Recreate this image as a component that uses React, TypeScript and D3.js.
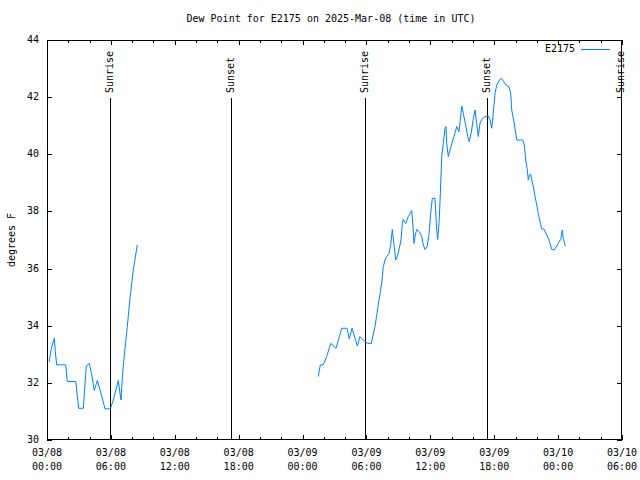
import React from "react";
import * as d3 from "d3";

// Hours since 2025-03-08 00:00 UTC, and dew point (°F)
const SEG_A_HOURS = [0.216, 0.404, 0.686, 0.78, 0.911, 1.756, 1.906, 2.695, 2.977, 3.409, 3.691, 3.973, 4.198, 4.442, 4.724, 5.071, 5.447, 5.945, 6.227, 6.696, 6.856, 6.95, 7.109, 7.541, 7.795, 8.105, 8.481];
const SEG_A_VALUES = [32.74, 33.21, 33.56, 33.09, 32.63, 32.63, 32.05, 32.05, 31.11, 31.11, 32.6, 32.68, 32.28, 31.73, 32.08, 31.63, 31.09, 31.09, 31.4, 32.08, 31.63, 31.4, 32.39, 33.97, 34.97, 35.95, 36.83];

const SEG_B_HOURS = [25.479, 25.667, 25.949, 26.268, 26.643, 27.141, 27.676, 28.174, 28.39, 28.644, 29.142, 29.395, 29.865, 30.147, 30.457, 30.804, 31.208, 31.433, 31.584, 31.743, 31.903, 32.119, 32.279, 32.429, 32.589, 32.748, 32.899, 33.086, 33.246, 33.368, 33.462, 33.687, 33.931, 34.091, 34.251, 34.401, 34.467, 34.561, 34.72, 34.965, 35.19, 35.34, 35.5, 35.716, 35.875, 36.035, 36.185, 36.439, 36.598, 36.692, 36.815, 36.908, 37.068, 37.218, 37.378, 37.472, 37.537, 37.688, 37.848, 38.007, 38.223, 38.477, 38.693, 38.852, 38.946, 39.097, 39.35, 39.51, 39.66, 39.885, 40.036, 40.195, 40.355, 40.505, 40.665, 40.825, 41.135, 41.445, 41.604, 41.764, 41.914, 42.074, 42.233, 42.449, 42.637, 42.853, 43.107, 43.388, 43.548, 43.642, 43.792, 43.952, 44.111, 44.675, 44.825, 44.957, 45.107, 45.201, 45.295, 45.426, 45.52, 45.67, 45.83, 45.99, 46.14, 46.3, 46.459, 46.675, 46.863, 47.079, 47.239, 47.399, 47.615, 47.803, 48.019, 48.244, 48.394, 48.488, 48.676];
const SEG_B_VALUES = [32.22, 32.63, 32.63, 32.92, 33.38, 33.21, 33.91, 33.91, 33.54, 33.91, 33.29, 33.62, 33.44, 33.38, 33.38, 33.97, 34.96, 35.49, 36.07, 36.3, 36.42, 36.53, 36.83, 37.37, 36.83, 36.3, 36.42, 36.71, 37.0, 37.58, 37.72, 37.58, 37.82, 37.93, 38.03, 37.35, 36.88, 37.12, 37.37, 37.29, 37.12, 36.83, 36.67, 36.79, 37.23, 37.93, 38.46, 38.46, 37.35, 37.02, 37.58, 38.34, 39.92, 40.38, 40.91, 40.97, 40.38, 39.92, 40.15, 40.38, 40.62, 40.97, 40.79, 41.32, 41.69, 41.43, 40.97, 40.62, 40.44, 40.85, 41.26, 41.55, 41.08, 40.62, 41.08, 41.22, 41.32, 41.34, 41.2, 40.91, 41.43, 42.13, 42.42, 42.57, 42.66, 42.57, 42.42, 42.36, 42.13, 41.55, 41.26, 40.91, 40.5, 40.5, 40.33, 39.8, 39.45, 39.1, 39.27, 39.3, 39.1, 38.87, 38.52, 38.23, 37.93, 37.64, 37.39, 37.38, 37.23, 37.06, 36.89, 36.67, 36.65, 36.74, 36.89, 37.02, 37.35, 37.06, 36.79];

const SUN_HOURS = [5.94, 17.28, 29.86, 41.32, 53.9];
const SUN_LABELS = ["Sunrise", "Sunset", "Sunrise", "Sunset", "Sunrise"];

const Y_TICKS = [30, 32, 34, 36, 38, 40, 42, 44];
const TITLE = "Dew Point for E2175 on 2025-Mar-08 (time in UTC)";
const Y_LABEL = "degrees F";
const SERIES_NAME = "E2175";

const T0 = Date.UTC(2025, 2, 8, 0, 0);
const T1 = Date.UTC(2025, 2, 10, 6, 0);
const toDate = (h: number) => new Date(T0 + h * 3600 * 1000);

const W = 640, H = 480;
const L = 47, R = 622, T = 40, B = 440;
const FONT = "'DejaVu Sans Mono', monospace";
const BLUE = "#0080ff";

export default function App() {
  const x = d3.scaleUtc().domain([new Date(T0), new Date(T1)]).range([L, R]);
  const y = d3.scaleLinear().domain([30, 44]).range([B, T]);
  const px = (v: number) => Math.round(v) + 0.5;

  const line = d3
    .line<[number, number]>()
    .x((d) => x(toDate(d[0])))
    .y((d) => y(d[1]));

  const segA = SEG_A_HOURS.map((h, i) => [h, SEG_A_VALUES[i]] as [number, number]);
  const segB = SEG_B_HOURS.map((h, i) => [h, SEG_B_VALUES[i]] as [number, number]);

  const majorX = x.ticks(d3.utcHour.every(6)!);
  const minorX = x.ticks(d3.utcHour.every(2)!).filter((d) => d.getUTCHours() % 6 !== 0);
  const fmtDate = d3.utcFormat("%m/%d");
  const fmtTime = d3.utcFormat("%H:%M");

  return (
    <svg
      width={W}
      height={H}
      style={{ position: "absolute", left: 0, top: 0, background: "#fff" }}
      fontFamily={FONT}
      fontSize={10}
    >
      <rect x={0} y={0} width={W} height={H} fill="#fff" />
      {/* title */}
      <text x={331} y={19} textAnchor="middle" dominantBaseline="middle" fill="#000">
        {TITLE}
      </text>
      {/* y label */}
      <text
        transform={`translate(12,${(T + B) / 2}) rotate(-90)`}
        textAnchor="middle"
        dominantBaseline="middle"
        fill="#000"
      >
        {Y_LABEL}
      </text>

      <g shapeRendering="crispEdges" stroke="#000" strokeWidth={1}>
        {/* y ticks */}
        {Y_TICKS.map((v) => (
          <g key={"y" + v}>
            <line x1={L} x2={L + 5} y1={px(y(v))} y2={px(y(v))} />
            <line x1={R - 5} x2={R} y1={px(y(v))} y2={px(y(v))} />
          </g>
        ))}
        {/* x ticks */}
        {majorX.map((d, i) => (
          <g key={"mx" + i}>
            <line x1={px(x(d))} x2={px(x(d))} y1={B} y2={B - 5} />
            <line x1={px(x(d))} x2={px(x(d))} y1={T} y2={T + 5} />
          </g>
        ))}
        {minorX.map((d, i) => (
          <g key={"nx" + i}>
            <line x1={px(x(d))} x2={px(x(d))} y1={B} y2={B - 3} />
            <line x1={px(x(d))} x2={px(x(d))} y1={T} y2={T + 3} />
          </g>
        ))}
        {/* sun lines */}
        {SUN_HOURS.map((h, i) => (
          <line key={"s" + i} x1={px(x(toDate(h)))} x2={px(x(toDate(h)))} y1={98} y2={B} />
        ))}
        {/* border */}
        <rect x={L + 0.5} y={T + 0.5} width={R - L - 1} height={B - T - 1} fill="none" />
      </g>

      {/* y tick labels */}
      {Y_TICKS.map((v) => (
        <text key={"yl" + v} x={39} y={y(v)} textAnchor="end" dominantBaseline="middle" fill="#000">
          {v}
        </text>
      ))}
      {/* x tick labels */}
      {majorX.map((d, i) => (
        <g key={"xl" + i}>
          <text x={x(d)} y={453} textAnchor="middle" dominantBaseline="middle" fill="#000">
            {fmtDate(d)}
          </text>
          <text x={x(d)} y={467} textAnchor="middle" dominantBaseline="middle" fill="#000">
            {fmtTime(d)}
          </text>
        </g>
      ))}
      {/* sun labels */}
      {SUN_HOURS.map((h, i) => (
        <text
          key={"sl" + i}
          transform={`translate(${x(toDate(h))},93) rotate(-90)`}
          textAnchor="start"
          dominantBaseline="middle"
          fill="#000"
        >
          {SUN_LABELS[i]}
        </text>
      ))}

      {/* data */}
      <path d={line(segA) ?? ""} fill="none" stroke={BLUE} strokeWidth={1} />
      <path d={line(segB) ?? ""} fill="none" stroke={BLUE} strokeWidth={1} />

      {/* legend */}
      <text x={575} y={49} textAnchor="end" dominantBaseline="middle" fill="#000">
        {SERIES_NAME}
      </text>
      <line x1={581} x2={610} y1={49.5} y2={49.5} stroke={BLUE} strokeWidth={1} shapeRendering="crispEdges" />
    </svg>
  );
}
